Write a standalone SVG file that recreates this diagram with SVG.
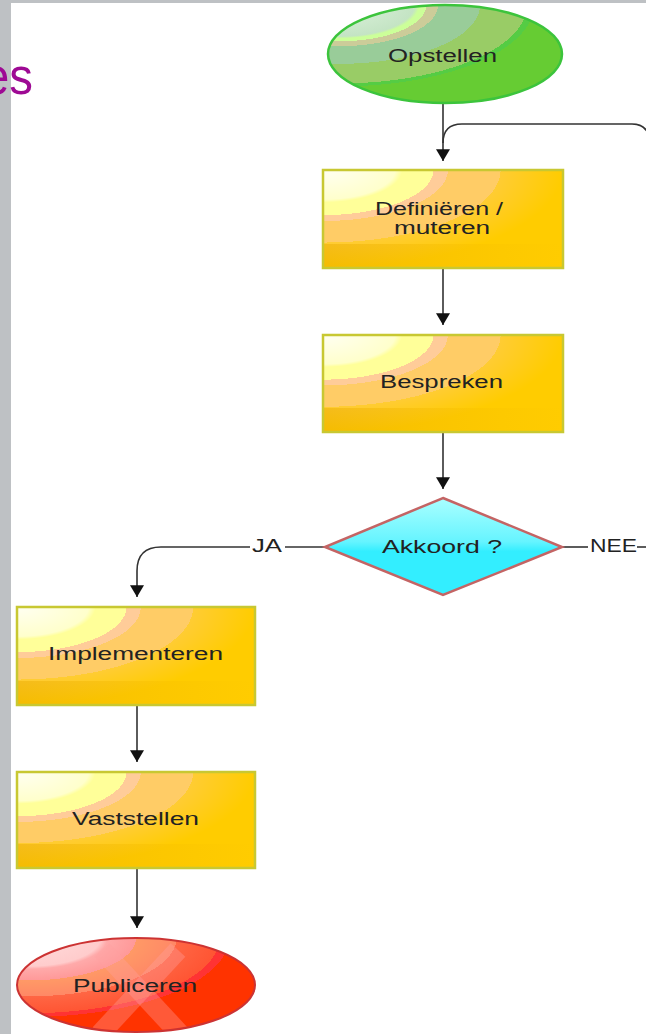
<svg xmlns="http://www.w3.org/2000/svg" width="646" height="1034" viewBox="0 0 646 1034">
<style>
.lbl{font-family:"Liberation Sans",Arial,sans-serif;font-size:18px;fill:#222}
.con{fill:none;stroke:#333;stroke-width:1.6}
.box{stroke:#C8C832;stroke-width:2.5}
</style>
<defs>
<marker id="arr" markerUnits="userSpaceOnUse" markerWidth="14" markerHeight="12" refX="6" refY="10" orient="0" viewBox="0 0 12 10">
<path d="M0,0 L12,0 L6,10 Z" fill="#111"/>
</marker>
<radialGradient id="gBox" cx="0" cy="0" r="1" fx="0" fy="0">
<stop offset="0" stop-color="#FFFFF2"/>
<stop offset="0.3" stop-color="#FFFFCC"/>
<stop offset="0.33" stop-color="#FFFF99"/>
<stop offset="0.46" stop-color="#FFFF99"/>
<stop offset="0.46" stop-color="#FFCC99"/>
<stop offset="0.52" stop-color="#FFCC99"/>
<stop offset="0.52" stop-color="#FFCC66"/>
<stop offset="0.74" stop-color="#FFCC66"/>
<stop offset="0.74" stop-color="#FFCC33"/>
<stop offset="1" stop-color="#FFCC00"/>
</radialGradient>
<linearGradient id="gBot" x1="0" y1="0" x2="1" y2="0">
<stop offset="0" stop-color="#E8A800" stop-opacity="0.45"/>
<stop offset="1" stop-color="#FFCC00" stop-opacity="0.3"/>
</linearGradient>
<radialGradient id="gGreen" cx="0.05" cy="0" r="1" fx="0.05" fy="0">
<stop offset="0" stop-color="#DDF2DD"/>
<stop offset="0.32" stop-color="#C4E4C4"/>
<stop offset="0.34" stop-color="#CCFF99"/>
<stop offset="0.37" stop-color="#CCFF99"/>
<stop offset="0.37" stop-color="#CCCC99"/>
<stop offset="0.42" stop-color="#CCCC99"/>
<stop offset="0.42" stop-color="#99CC99"/>
<stop offset="0.6" stop-color="#99CC99"/>
<stop offset="0.6" stop-color="#99CC66"/>
<stop offset="0.8" stop-color="#99CC66"/>
<stop offset="0.8" stop-color="#55CC44"/>
<stop offset="0.83" stop-color="#55CC44"/>
<stop offset="0.83" stop-color="#66CC33"/>
<stop offset="1" stop-color="#66CC33"/>
</radialGradient>
<radialGradient id="gRed" cx="0.05" cy="0" r="1" fx="0.05" fy="0">
<stop offset="0" stop-color="#FFDDDD"/>
<stop offset="0.3" stop-color="#FFCCCC"/>
<stop offset="0.33" stop-color="#FFAAAA"/>
<stop offset="0.45" stop-color="#FF9999"/>
<stop offset="0.45" stop-color="#FF9966"/>
<stop offset="0.62" stop-color="#FF8866"/>
<stop offset="0.62" stop-color="#FF6644"/>
<stop offset="0.8" stop-color="#FF5533"/>
<stop offset="0.8" stop-color="#FF3333"/>
<stop offset="0.84" stop-color="#FF3333"/>
<stop offset="0.84" stop-color="#FF3300"/>
<stop offset="1" stop-color="#FF3300"/>
</radialGradient>
<linearGradient id="gCyan" x1="0" y1="0" x2="0" y2="1">
<stop offset="0" stop-color="#AAFFFF"/>
<stop offset="0.45" stop-color="#66F4FF"/>
<stop offset="0.55" stop-color="#33EEFF"/>
<stop offset="1" stop-color="#33EEFF"/>
</linearGradient>
<clipPath id="redClip"><ellipse cx="136" cy="985" rx="118" ry="46"/></clipPath>
</defs>

<rect x="0" y="0" width="646" height="1034" fill="#FFFFFF"/>
<rect x="0" y="0" width="11" height="1034" fill="#BEC1C4"/>
<rect x="0" y="0" width="646" height="3" fill="#BEC1C4"/>
<text x="-17" y="94" font-family="'Liberation Sans',Arial,sans-serif" font-size="52" fill="#9E0A94" textLength="50" lengthAdjust="spacingAndGlyphs">es</text>

<g id="connectors">
<path class="con" d="M443,103 L443,161" marker-end="url(#arr)"/>
<path class="con" d="M650,145 Q650,124 632,124 L462,124 Q443,124 443,143"/>
<path class="con" d="M443,268 L443,325" marker-end="url(#arr)"/>
<path class="con" d="M443,432 L443,489" marker-end="url(#arr)"/>
<path class="con" d="M325,547 L285,547"/>
<path class="con" d="M250,547 L161,547 Q137,547 137,571 L137,597" marker-end="url(#arr)"/>
<path class="con" d="M562,547 L588,547"/>
<path class="con" d="M637,547 L646,547"/>
<path class="con" d="M137,705 L137,762" marker-end="url(#arr)"/>
<path class="con" d="M137,868 L137,928" marker-end="url(#arr)"/>
<text class="lbl" x="252" y="552" textLength="30" lengthAdjust="spacingAndGlyphs">JA</text>
<text class="lbl" x="590" y="552" textLength="47" lengthAdjust="spacingAndGlyphs">NEE</text>
</g>

<g id="opstellen">
<ellipse cx="445" cy="54" rx="117" ry="49" fill="url(#gGreen)" stroke="#3CC43C" stroke-width="2.5"/>
<text class="lbl" x="388" y="62" textLength="109" lengthAdjust="spacingAndGlyphs">Opstellen</text>
</g>

<g id="definieren">
<rect x="323" y="170" width="240" height="98" fill="url(#gBox)"/>
<rect x="323" y="244" width="240" height="24" fill="url(#gBot)"/>
<rect class="box" x="323" y="170" width="240" height="98" fill="none"/>
<text class="lbl" x="375" y="215" textLength="128" lengthAdjust="spacingAndGlyphs">Definiëren /</text>
<text class="lbl" x="394" y="234" textLength="96" lengthAdjust="spacingAndGlyphs">muteren</text>
</g>

<g id="bespreken">
<rect x="323" y="335" width="240" height="97" fill="url(#gBox)"/>
<rect x="323" y="408" width="240" height="24" fill="url(#gBot)"/>
<rect class="box" x="323" y="335" width="240" height="97" fill="none"/>
<text class="lbl" x="380" y="388" textLength="123" lengthAdjust="spacingAndGlyphs">Bespreken</text>
</g>

<g id="akkoord">
<polygon points="443,498 562,547 443,595 325,547" fill="url(#gCyan)" stroke="#C46464" stroke-width="2.5"/>
<text class="lbl" x="382" y="553" textLength="120" lengthAdjust="spacingAndGlyphs">Akkoord ?</text>
</g>

<g id="implementeren">
<rect x="17" y="607" width="238" height="98" fill="url(#gBox)"/>
<rect x="17" y="681" width="238" height="24" fill="url(#gBot)"/>
<rect class="box" x="17" y="607" width="238" height="98" fill="none"/>
<text class="lbl" x="48" y="660" textLength="175" lengthAdjust="spacingAndGlyphs">Implementeren</text>
</g>

<g id="vaststellen">
<rect x="17" y="772" width="238" height="96" fill="url(#gBox)"/>
<rect x="17" y="844" width="238" height="24" fill="url(#gBot)"/>
<rect class="box" x="17" y="772" width="238" height="96" fill="none"/>
<text class="lbl" x="72" y="825" textLength="127" lengthAdjust="spacingAndGlyphs">Vaststellen</text>
</g>

<g id="publiceren">
<ellipse cx="136" cy="985" rx="119" ry="47" fill="url(#gRed)" stroke="#CC3333" stroke-width="2"/>
<g clip-path="url(#redClip)" stroke="#FFA0A0" stroke-opacity="0.35" stroke-width="20">
<line x1="102" y1="950" x2="180" y2="1034"/>
<line x1="178" y1="950" x2="100" y2="1034"/>
</g>
<text class="lbl" x="73" y="992" textLength="124" lengthAdjust="spacingAndGlyphs">Publiceren</text>
</g>
</svg>
